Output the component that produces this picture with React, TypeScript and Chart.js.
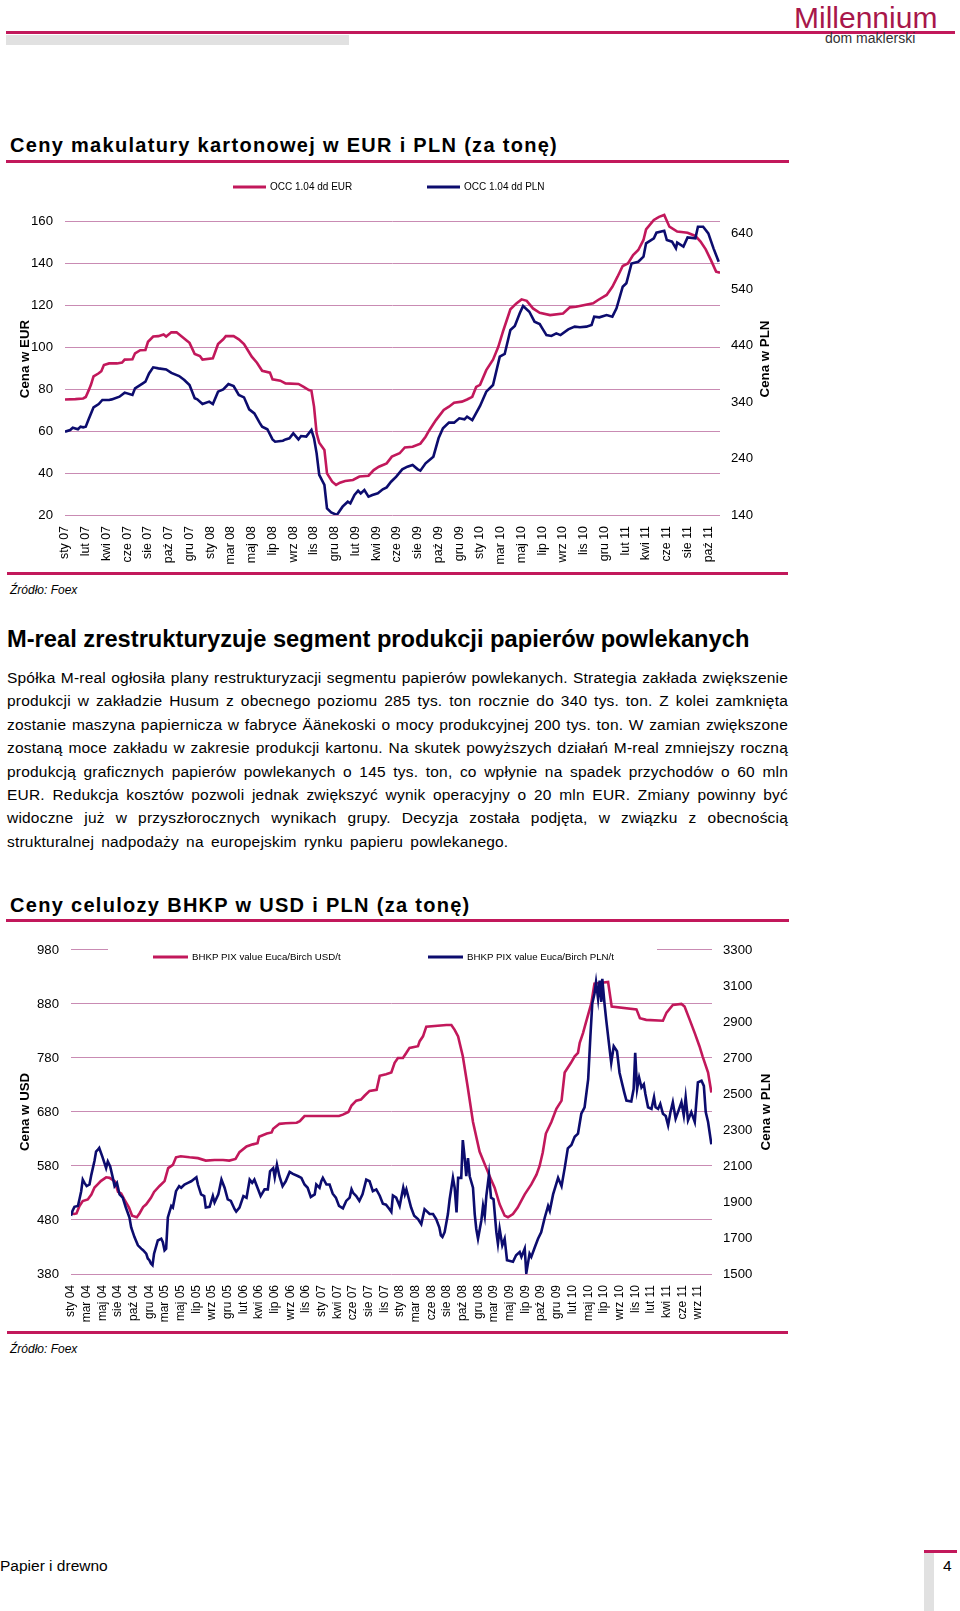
import React, { useEffect, useRef } from 'react';
import { Chart, registerables } from 'chart.js';

Chart.register(...registerables);

const FONT = '"Liberation Sans", Arial, sans-serif';
const PINK = '#C2185B';
const NAVY = '#0C0C6E';
const GRID = '#C98BB3';
const RULE = '#C2185B';

Chart.defaults.font.family = FONT;
Chart.defaults.color = '#000';

// ---------- Chart 1: OCC 1.04 (weekly, x = week index from sty 07) ----------
const occLabels = ['sty 07', 'lut 07', 'kwi 07', 'cze 07', 'sie 07', 'paź 07', 'gru 07', 'sty 08', 'mar 08', 'maj 08', 'lip 08', 'wrz 08', 'lis 08', 'gru 08', 'lut 09', 'kwi 09', 'cze 09', 'sie 09', 'paź 09', 'gru 09', 'sty 10', 'mar 10', 'maj 10', 'lip 10', 'wrz 10', 'lis 10', 'gru 10', 'lut 11', 'kwi 11', 'cze 11', 'sie 11', 'paź 11'];
const occLabelEvery = 8;
const occLastWeek = 252.5;
const occEurTicks = [20, 40, 60, 80, 100, 120, 140, 160];
const occPlnTicks = [140, 240, 340, 440, 540, 640];

const occEur: [number, number][] = [[0, 75], [4, 75.2], [7, 75.5], [8, 76.2], [9, 79], [10, 82], [11, 86], [13, 87.5], [14, 88.5], [15, 91.4], [17, 92.2], [20, 92.2], [22, 92.6], [23, 94], [26, 94.2], [27, 97], [29, 98.5], [31, 98.6], [32, 102.5], [34, 105], [36, 105.2], [38, 106], [39, 105], [41, 107], [43, 107], [45, 105], [47, 103], [48, 102], [50, 96.7], [52, 95.7], [53, 94], [57, 94.6], [58, 98], [59, 101.4], [61, 103.7], [62, 105.2], [65, 105.2], [67, 103.7], [69, 101.4], [70, 99.4], [72, 95.4], [74, 92.5], [76, 88.7], [79, 87.8], [80, 84.6], [83, 84], [85, 82.7], [90, 82.4], [92, 81], [94, 79.5], [95, 79.2], [96, 71.6], [97, 58.9], [98, 54.4], [100, 51], [101, 39.8], [103, 35.9], [104.5, 34.3], [106, 35.4], [108, 36.2], [111, 36.7], [113.5, 38.3], [117, 38.7], [119, 41.4], [121, 43], [124, 44.6], [126, 47.8], [129, 49.4], [131, 52.2], [134, 52.5], [137, 54], [139, 57.3], [140.5, 60.5], [143, 65.2], [146, 70], [148, 71.6], [150, 73.5], [153, 74], [155, 75], [157, 76.3], [158.5, 81], [160, 82], [162.4, 89], [165, 94], [167, 100], [169, 108], [171.7, 118], [174, 120.8], [176, 122.7], [178, 122], [180.4, 118.4], [183, 116.3], [187, 115.2], [192, 116], [194.6, 118.9], [197, 119.2], [203.6, 120.8], [205.5, 122.4], [208.8, 124.8], [211, 128.7], [213, 133.5], [215, 138.6], [217, 139.8], [219, 143.8], [221, 146.2], [223, 151], [224, 156], [227, 160.5], [229, 162], [231, 162.9], [233, 157.3], [236, 155], [240, 154.4], [243, 152.9], [245, 150.2], [247, 146.5], [249, 141.4], [251, 135.9], [252.5, 135.4]];

const occPln: [number, number][] = [[0, 287.8], [2, 290.7], [3, 294.8], [5, 292], [6, 296.6], [7, 295.4], [8, 296.6], [9, 308.4], [11, 331], [13, 336.8], [14.4, 344], [17, 344], [18, 345], [21, 349.8], [23, 357], [26, 352.8], [27, 364.6], [30, 373.4], [31, 376.4], [32.4, 391], [34, 401.8], [36, 400], [39, 398], [41, 392], [44, 386.4], [46, 379.4], [48, 370.5], [50, 346.9], [51, 345], [53, 336.8], [55.6, 341], [57, 336.8], [59, 358.7], [61, 362.8], [63, 372.3], [65, 368.7], [67, 352.8], [69, 348.6], [71, 327.3], [73, 320], [75, 303.7], [76, 296.6], [78, 292], [80, 274], [81, 270], [84, 271.8], [85, 274], [86.5, 276], [88, 284.8], [90, 274], [91, 280], [93, 278.9], [95, 290.7], [96, 276], [97, 249.3], [98, 211], [100, 193.2], [101, 151.8], [102.6, 144.7], [104.8, 140], [107, 154.8], [109, 163.6], [110, 160.7], [111.6, 175.5], [113, 183], [114, 178.4], [115.4, 184.3], [117, 172.5], [118.5, 175.5], [120.6, 178.4], [122.5, 185.5], [124, 189], [125.7, 199], [127.7, 208], [130, 221], [132, 225.7], [134, 228.7], [136, 221], [137, 218.6], [139, 231.6], [142, 243.4], [144, 276], [145.7, 293.7], [148, 303.7], [150, 303.7], [152, 311.4], [154, 309.6], [155, 314.4], [157, 308.4], [160, 333.3], [162.4, 358.7], [165, 370.5], [167.6, 420.7], [169.5, 425.5], [171.7, 468], [173.4, 475], [175.3, 497.6], [176.6, 510.6], [179, 500.5], [181, 482.8], [183, 478.6], [184, 471], [185.6, 459], [187.5, 457.4], [189.4, 462], [191, 459], [194, 469.2], [196.5, 474], [198.5, 472.8], [201, 474], [203, 477], [204, 491.7], [206, 490.5], [208.8, 494.6], [211, 491.7], [212.6, 506.4], [215, 544.8], [216.4, 550.8], [218.4, 586], [221, 589], [223, 598], [224, 621.7], [227, 630.5], [228, 640.6], [231, 644], [232, 627.6], [234, 624.6], [235.5, 612.8], [236, 622.9], [238.4, 615.8], [240, 632.3], [243, 630.5], [244, 651.2], [246, 651.2], [248, 639.4], [250, 612.8], [252, 589]];

// ---------- Chart 2: BHKP PIX (weekly, x = week index from sty 04) ----------
const bhkpLabels = ['sty 04', 'mar 04', 'maj 04', 'sie 04', 'paź 04', 'gru 04', 'mar 05', 'maj 05', 'lip 05', 'wrz 05', 'gru 05', 'lut 06', 'kwi 06', 'lip 06', 'wrz 06', 'lis 06', 'sty 07', 'kwi 07', 'cze 07', 'sie 07', 'lis 07', 'sty 08', 'mar 08', 'cze 08', 'sie 08', 'paź 08', 'gru 08', 'mar 09', 'maj 09', 'lip 09', 'paź 09', 'gru 09', 'lut 10', 'maj 10', 'lip 10', 'wrz 10', 'lis 10', 'lut 11', 'kwi 11', 'cze 11', 'wrz 11'];
const bhkpLabelEvery = 10;
const bhkpLastWeek = 409;
const bhkpUsdTicks = [380, 480, 580, 680, 780, 880, 980];
const bhkpPlnTicks = [1500, 1700, 1900, 2100, 2300, 2500, 2700, 2900, 3100, 3300];

const bhkpUsd: [number, number][] = [[0, 492], [2, 491], [3.5, 492], [5.4, 506], [7.5, 515], [10.7, 518], [13, 527], [15, 540], [17, 546], [19, 552], [22.4, 559], [24.6, 558], [27.8, 552], [30, 532], [32, 529], [34, 518], [37, 503], [39, 488], [42, 485], [43.7, 492], [46, 504], [48, 509], [51, 521], [53, 532], [56.5, 543], [59.7, 552], [62, 576], [65, 582], [67, 596], [70, 598], [75.6, 596], [81, 594.5], [86, 590], [91.6, 591], [97, 591], [101, 590], [105, 593], [107.5, 605.5], [112, 616], [116, 620], [119, 622], [120, 634], [125, 640], [128, 642], [129, 649], [133, 658], [137, 659], [144, 660], [146, 663], [149, 672.5], [171, 672.5], [173.5, 675], [177, 680], [179, 692], [182, 701], [185, 703], [187.3, 710], [190.5, 719], [195, 721], [197, 747], [201, 750], [204.4, 753], [206.5, 771], [208.6, 780], [211.8, 780], [214, 789.5], [216, 798.6], [221.4, 801.7], [222.5, 811], [224.6, 820], [226.7, 838], [239.5, 841], [242.7, 841], [244.8, 832], [247, 820], [250, 783], [253, 728.6], [256.5, 661.5], [260.7, 606.7], [265, 576], [268, 555], [270.3, 539.7], [273.5, 509], [276.7, 488], [278.8, 485], [282, 491], [285, 503], [289.5, 527.5], [293.7, 545.8], [297, 564], [299, 580], [301, 605], [303, 640], [306.5, 661.5], [309.7, 686], [313, 701], [315, 753], [319, 771], [321.4, 783], [323.5, 789.5], [324.6, 808], [326.7, 826], [328.4, 844], [332, 881], [334, 917.5], [342.7, 920.5], [345, 875], [360.8, 870], [363, 853.5], [367, 850.5], [377.7, 849], [380, 864], [384, 878], [389.5, 880], [391.5, 875], [394.8, 850.5], [398, 826], [401, 801.7], [403, 783], [406.5, 753], [408.6, 716]];

const bhkpPln: [number, number][] = [[0, 1823], [1, 1851], [2.2, 1873], [4.4, 1878], [5.4, 1915], [6.5, 1960], [7.5, 2024], [8.6, 2006], [10, 1988], [11.8, 1997], [13, 2052], [15, 2129], [16, 2180], [17, 2189], [18, 2200], [20, 2152], [22.4, 2088], [23.5, 2125], [25, 2098], [26.7, 2034], [27.8, 1988], [29.3, 2006], [31, 1942], [33, 1924], [35, 1869], [37.3, 1814], [38.4, 1759], [40.5, 1705], [42.7, 1659], [44.8, 1641], [46, 1632], [48, 1613], [49, 1586], [50, 1577], [51, 1558], [52, 1549], [53, 1613], [55.4, 1686], [57.6, 1696], [58.6, 1677], [59.7, 1632], [60.7, 1641], [61.8, 1814], [64, 1878], [65, 1869], [67, 1960], [69, 1988], [70.3, 1979], [72.4, 1997], [74.6, 2006], [76.7, 2015], [80, 2037], [81, 1997], [83, 1942], [85, 1933], [86, 1869], [88.4, 1873], [90.5, 1933], [91.6, 1897], [94, 1942], [96, 2024], [98, 1979], [100, 1915], [102, 1906], [104.4, 1860], [105.4, 1847], [107.5, 1869], [110, 1933], [112, 1924], [114, 2024], [115.6, 2006], [117, 2024], [119, 1979], [121, 1933], [123.5, 1970], [125.6, 1970], [127, 2070], [129, 2088], [130, 2037], [131.4, 2107], [133, 2043], [135, 1988], [137, 2015], [139.5, 2067], [141.6, 2056], [145, 2043], [147, 2034], [149, 1997], [151, 1979], [153, 1928], [155.5, 1942], [156.5, 1997], [158.6, 1979], [159.7, 2015], [160.7, 2034], [163, 1997], [165, 1997], [167, 1946], [169, 1924], [171, 1878], [173.5, 1865], [175.6, 1906], [177.8, 1924], [179, 1970], [180, 1951], [182, 1933], [184, 1906], [186, 1942], [188.4, 2024], [190.5, 2015], [192.6, 1960], [194.8, 1970], [197, 1935], [199, 1890], [201, 1885], [203, 1862], [204.4, 1845], [205.4, 1936], [207.5, 1924], [209.7, 1878], [212, 1979], [213, 1942], [214, 1970], [217, 1869], [219, 1823], [221.4, 1805], [223.5, 1777], [225.6, 1860], [228.8, 1833], [231, 1833], [233, 1805], [235, 1759], [236, 1714], [237, 1705], [238.4, 1732], [240.5, 1833], [241.6, 1915], [243.7, 2034], [244.8, 1979], [246, 1842], [247, 2034], [249, 2034], [250, 2244], [251, 2162], [252.2, 2043], [253.3, 2143], [254.4, 2043], [256.5, 1979], [257.6, 1833], [258.6, 1750], [259.7, 1696], [261.8, 1796], [262.9, 1878], [264, 1823], [265, 1933], [266.7, 2052], [268, 1924], [269.6, 1915], [271.4, 1732], [272.4, 1668], [273.5, 1750], [275.2, 1659], [276.7, 1696], [278.2, 1577], [282, 1568], [284, 1604], [286.3, 1622], [287.4, 1595], [289.5, 1641], [290.5, 1504], [292.6, 1613], [293.7, 1595], [296, 1650], [298, 1696], [300, 1732], [302.3, 1814], [304.4, 1878], [305.5, 1851], [307.6, 1942], [310.8, 2034], [313, 1988], [315, 2088], [317, 2198], [319.3, 2216], [321.4, 2262], [323.5, 2280], [325.6, 2390], [327.7, 2426], [330, 2582], [331.4, 2819], [332.6, 3002], [334, 3057], [335, 3121], [336.3, 3030], [337.3, 3130], [338.4, 3011], [339, 3139], [340.5, 2993], [341.5, 2911], [343.7, 2746], [344.7, 2673], [346.3, 2765], [348.4, 2737], [350, 2618], [352, 2545], [353, 2509], [354.4, 2463], [357.5, 2458], [359, 2527], [360, 2728], [361.2, 2527], [362.5, 2591], [364, 2536], [365.5, 2554], [366.5, 2500], [368.2, 2426], [370.4, 2417], [372, 2481], [373, 2426], [374.6, 2417], [376, 2445], [377.7, 2390], [379.5, 2377], [381, 2326], [382.5, 2399], [384, 2454], [385.8, 2363], [387.3, 2399], [389.5, 2454], [391, 2381], [392.2, 2481], [393.7, 2353], [395.8, 2399], [398, 2344], [400, 2564], [402.3, 2573], [403.8, 2545], [405, 2399], [406.5, 2344], [408.6, 2220]];

const paragraphLines = [
  'Spółka M-real ogłosiła plany restrukturyzacji segmentu papierów powlekanych. Strategia zakłada zwiększenie',
  'produkcji w zakładzie Husum z obecnego poziomu 285 tys. ton rocznie do 340 tys. ton. Z kolei zamknięta',
  'zostanie maszyna papiernicza w fabryce Äänekoski o mocy produkcyjnej 200 tys. ton. W zamian zwiększone',
  'zostaną moce zakładu w zakresie produkcji kartonu. Na skutek powyższych działań M-real zmniejszy roczną',
  'produkcją graficznych papierów powlekanych o 145 tys. ton, co wpłynie na spadek przychodów o 60 mln',
  'EUR. Redukcja kosztów pozwoli jednak zwiększyć wynik operacyjny o 20 mln EUR. Zmiany powinny być',
  'widoczne już w przyszłorocznych wynikach grupy. Decyzja została podjęta, w związku z obecnością',
  'strukturalnej nadpodaży na europejskim rynku papieru powlekanego.',
];

// ---------- plugins ----------
function makeLegend(entries: { ds: number; x: number }[], y: number, lineLen: number, gap: number, fontSize: number, clear?: [number, number, number, number]) {
  return {
    id: 'lineLegend',
    beforeDatasetsDraw(chart: any) {
      const ctx = chart.ctx;
      ctx.save();
      if (clear) {
        ctx.fillStyle = '#fff';
        ctx.fillRect(clear[0], clear[1], clear[2], clear[3]);
      }
      ctx.font = `${fontSize}px ${FONT}`;
      ctx.textBaseline = 'middle';
      ctx.textAlign = 'left';
      entries.forEach((e) => {
        const ds = chart.data.datasets[e.ds];
        ctx.strokeStyle = ds.borderColor;
        ctx.lineWidth = 3;
        ctx.beginPath();
        ctx.moveTo(e.x, y);
        ctx.lineTo(e.x + lineLen, y);
        ctx.stroke();
        ctx.fillStyle = '#000';
        ctx.fillText(ds.label, e.x + lineLen + gap, y);
      });
      ctx.restore();
    },
  };
}

function makeRightTitle(text: string, x: number) {
  return {
    id: 'rightTitle',
    afterDraw(chart: any) {
      const ctx = chart.ctx;
      const a = chart.chartArea;
      ctx.save();
      ctx.translate(x, (a.top + a.bottom) / 2);
      ctx.rotate(-Math.PI / 2);
      ctx.font = `bold 13.3px ${FONT}`;
      ctx.textAlign = 'center';
      ctx.textBaseline = 'middle';
      ctx.fillStyle = '#000';
      ctx.fillText(text, 0, 0);
      ctx.restore();
    },
  };
}

function xScale(labels: string[], every: number, max: number, height: number, fontSize: number) {
  return {
    type: 'linear',
    min: 0,
    max,
    afterBuildTicks: (s: any) => {
      s.ticks = labels.map((_, i) => ({ value: i * every }));
    },
    afterFit: (s: any) => {
      s.height = height;
    },
    grid: { display: false, drawTicks: false },
    border: { display: false },
    ticks: {
      autoSkip: false,
      maxRotation: 90,
      minRotation: 90,
      padding: 11,
      color: '#000',
      font: { size: fontSize },
      callback: (_v: any, i: number) => labels[i],
    },
  };
}

function yScale(position: string, min: number, max: number, tickVals: number[], width: number, withGrid: boolean, title?: string) {
  return {
    type: 'linear',
    position,
    min,
    max,
    afterBuildTicks: (s: any) => {
      s.ticks = tickVals.map((v) => ({ value: v }));
    },
    afterFit: (s: any) => {
      s.width = width;
    },
    grid: withGrid ? { color: GRID, lineWidth: 1, drawTicks: false } : { display: false, drawTicks: false },
    border: { display: false },
    ticks: {
      padding: position === 'left' ? 12 : 11,
      color: '#000',
      font: { size: 13.2 },
      callback: (v: any) => String(v),
    },
    title: title
      ? { display: true, text: title, color: '#000', font: { size: 13.3, weight: 'bold' }, padding: { top: 17, bottom: 0 } }
      : { display: false },
  };
}

const toXY = (pts: [number, number][]) => pts.map(([x, y]) => ({ x, y }));

function config1(): any {
  return {
    type: 'line',
    data: {
      datasets: [
        { label: 'OCC 1.04 dd EUR', data: toXY(occEur), borderColor: PINK, backgroundColor: PINK, yAxisID: 'y', order: 1 },
        { label: 'OCC 1.04 dd PLN', data: toXY(occPln), borderColor: NAVY, backgroundColor: NAVY, yAxisID: 'y1', order: 0 },
      ],
    },
    options: {
      animation: false,
      responsive: false,
      devicePixelRatio: 1,
      layout: { padding: { top: 33, left: 0, right: 0, bottom: 0 } },
      elements: { point: { radius: 0 }, line: { borderWidth: 2.6, tension: 0 } },
      plugins: { legend: { display: false }, tooltip: { enabled: false } },
      scales: {
        x: xScale(occLabels, occLabelEvery, occLastWeek, 55, 12.4),
        y: yScale('left', 20, 168.6, occEurTicks, 65, true, 'Cena w EUR'),
        y1: yScale('right', 140, 693.2, occPlnTicks, 80, false),
      },
    },
    plugins: [
      makeLegend([{ ds: 0, x: 233 }, { ds: 1, x: 427 }], 17, 33, 4, 10),
      makeRightTitle('Cena w PLN', 765),
    ],
  };
}

function config2(): any {
  return {
    type: 'line',
    data: {
      datasets: [
        { label: 'BHKP PIX value Euca/Birch USD/t', data: toXY(bhkpUsd), borderColor: PINK, backgroundColor: PINK, yAxisID: 'y', order: 1 },
        { label: 'BHKP PIX value Euca/Birch PLN/t', data: toXY(bhkpPln), borderColor: NAVY, backgroundColor: NAVY, yAxisID: 'y1', order: 0 },
      ],
    },
    options: {
      animation: false,
      responsive: false,
      devicePixelRatio: 1,
      layout: { padding: { top: 16, left: 0, right: 0, bottom: 0 } },
      elements: { point: { radius: 0 }, line: { borderWidth: 2.6, tension: 0 } },
      plugins: { legend: { display: false }, tooltip: { enabled: false } },
      scales: {
        x: xScale(bhkpLabels, bhkpLabelEvery, bhkpLastWeek, 56, 12),
        y: yScale('left', 380, 980, bhkpUsdTicks, 71, true, 'Cena w USD'),
        y1: yScale('right', 1500, 3300, bhkpPlnTicks, 88, false),
      },
    },
    plugins: [
      makeLegend([{ ds: 0, x: 153 }, { ds: 1, x: 428 }], 27, 35, 4, 9.7, [108, 12, 549, 8]),
      makeRightTitle('Cena w PLN', 766.7),
    ],
  };
}

function ChartCanvas({ make, left, top, width, height }: any) {
  const ref = useRef<HTMLCanvasElement>(null);
  useEffect(() => {
    const chart = new Chart(ref.current as HTMLCanvasElement, make());
    return () => chart.destroy();
  }, []);
  return (
    <canvas
      ref={ref}
      width={width}
      height={height}
      style={{ position: 'absolute', left, top, width, height }}
    />
  );
}

const abs = (s: any) => ({ position: 'absolute' as const, ...s });

export default function App() {
  const last = paragraphLines.length - 1;
  return (
    <div style={{ position: 'absolute', left: 0, top: 0, width: 960, height: 1611, background: '#fff', fontFamily: FONT, color: '#000', overflow: 'hidden' }}>
      {/* header */}
      <div style={abs({ left: 6, top: 31, width: 949, height: 2.5, background: RULE })} />
      <div style={abs({ left: 6, top: 34.5, width: 343, height: 10.5, background: '#E1E1E1' })} />
      <div style={abs({ left: 794, top: 3, fontSize: 30, lineHeight: '30px', color: '#A8174A', whiteSpace: 'nowrap' })}>Millennium</div>
      <div style={abs({ left: 825, top: 30, fontSize: 14, lineHeight: '16px', color: '#333', whiteSpace: 'nowrap' })}>dom maklerski</div>

      {/* chart 1 */}
      <div style={abs({ left: 10, top: 133, fontSize: 20, lineHeight: '24px', fontWeight: 'bold', letterSpacing: 1.3, whiteSpace: 'nowrap' })}>Ceny makulatury kartonowej w EUR i PLN (za tonę)</div>
      <div style={abs({ left: 6, top: 159.5, width: 783, height: 3, background: RULE })} />
      <ChartCanvas make={config1} left={0} top={170} width={800} height={400} />
      <div style={abs({ left: 7, top: 572, width: 781, height: 3, background: RULE })} />
      <div style={abs({ left: 10, top: 583, fontSize: 12, lineHeight: '14px', fontStyle: 'italic', whiteSpace: 'nowrap' })}>Źródło: Foex</div>

      {/* article */}
      <div style={abs({ left: 7, top: 625, fontSize: 23.7, lineHeight: '28px', fontWeight: 'bold', whiteSpace: 'nowrap' })}>M-real zrestrukturyzuje segment produkcji papierów powlekanych</div>
      {paragraphLines.map((t, i) => (
        <div
          key={i}
          style={abs({
            left: 7,
            top: 666 + i * 23.4,
            width: 781,
            fontSize: 15.5,
            lineHeight: '23.4px',
            letterSpacing: 0.2,
            whiteSpace: 'nowrap',
            textAlign: i < last ? 'justify' : 'left',
            textAlignLast: i < last ? 'justify' : 'left',
            wordSpacing: i === last ? 2.7 : 0,
          })}
        >
          {t}
        </div>
      ))}

      {/* chart 2 */}
      <div style={abs({ left: 10, top: 893, fontSize: 20, lineHeight: '24px', fontWeight: 'bold', letterSpacing: 1.3, whiteSpace: 'nowrap' })}>Ceny celulozy BHKP w USD i PLN (za tonę)</div>
      <div style={abs({ left: 6, top: 919, width: 783, height: 3, background: RULE })} />
      <ChartCanvas make={config2} left={0} top={930} width={800} height={400} />
      <div style={abs({ left: 7, top: 1331, width: 781, height: 3, background: RULE })} />
      <div style={abs({ left: 10, top: 1342, fontSize: 12, lineHeight: '14px', fontStyle: 'italic', whiteSpace: 'nowrap' })}>Źródło: Foex</div>

      {/* footer */}
      <div style={abs({ left: 0, top: 1557, fontSize: 15.5, lineHeight: '18px', whiteSpace: 'nowrap' })}>Papier i drewno</div>
      <div style={abs({ left: 924, top: 1550, width: 33, height: 2.5, background: RULE })} />
      <div style={abs({ left: 924, top: 1553, width: 10, height: 58, background: '#E1E1E1' })} />
      <div style={abs({ left: 943, top: 1557, fontSize: 15.5, lineHeight: '18px' })}>4</div>
    </div>
  );
}
